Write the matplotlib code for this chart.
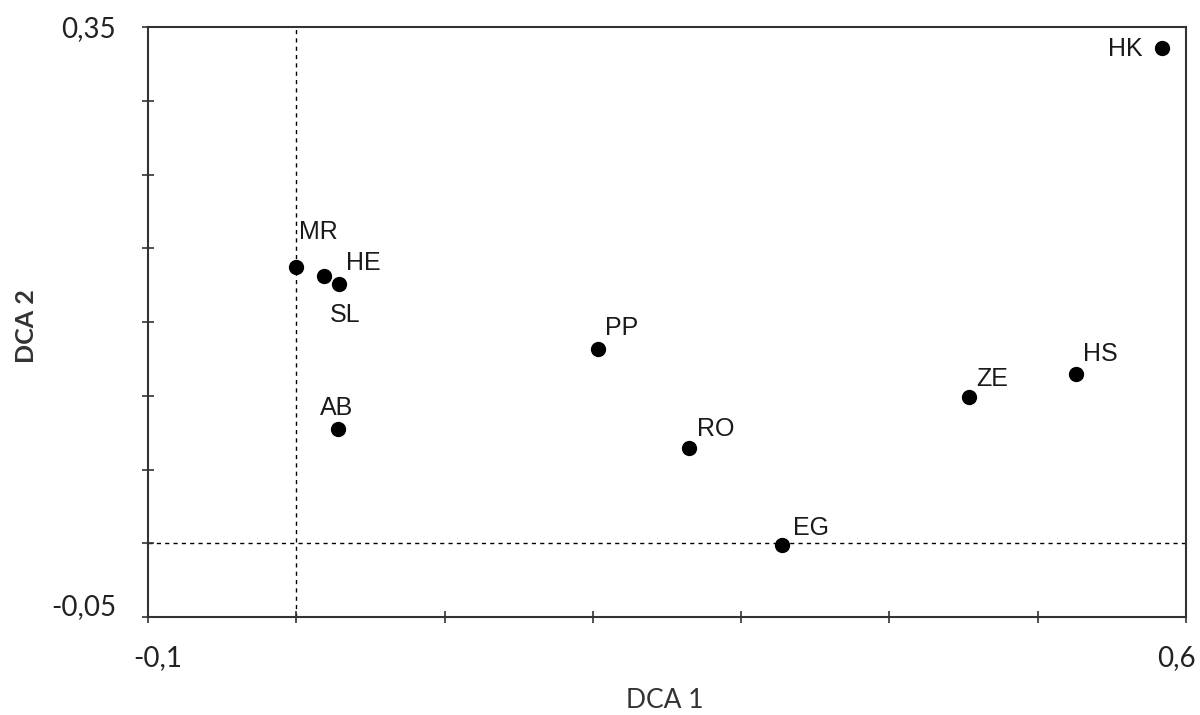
import matplotlib
matplotlib.use("Agg")
import matplotlib.pyplot as plt
import matplotlib.transforms as mtransforms
from matplotlib.ticker import MultipleLocator, FuncFormatter

# site scores on the first two DCA axes
sites = ["MR", "SL", "HE", "AB", "PP", "RO", "EG", "ZE", "HS", "HK"]
dca1 = [0.000, 0.019, 0.029, 0.028, 0.2035, 0.265, 0.3275, 0.4535, 0.526, 0.584]
dca2 = [0.187, 0.181, 0.176, 0.0775, 0.132, 0.0645, -0.001, 0.099, 0.115, 0.336]

# label placement (pixel offsets from the point, alignment)
label_pos = {
    "MR": (3, 28, "left"),
    "SL": (5, -46, "left"),
    "HE": (7, 14, "left"),
    "AB": (-18, 14, "left"),
    "PP": (7, 14, "left"),
    "RO": (8, 12, "left"),
    "EG": (11, 10, "left"),
    "ZE": (8, 11, "left"),
    "HS": (7, 13, "left"),
    "HK": (-20, -8, "right"),
}

W, H = 1200, 715
fig = plt.figure(figsize=(12, 7.15), dpi=100)
ax = fig.add_axes([0.1233, 0.137, 0.8650, 0.8252])

ax.set_xlim(-0.1, 0.6)
ax.set_ylim(-0.05, 0.35)

ax.axvline(0, color="black", linestyle=(0, (3, 3)), linewidth=1.0, zorder=1)
ax.axhline(0, color="black", linestyle=(0, (3, 3)), linewidth=1.0, zorder=1)

ax.plot(dca1, dca2, "o", color="black", markersize=10, zorder=3)

for name, x, y in zip(sites, dca1, dca2):
    dx, dy, ha = label_pos[name]
    ax.annotate(name, (x, y), xytext=(dx * 0.72, dy * 0.72),
                textcoords="offset points", ha=ha, va="baseline",
                fontsize=18, family="Liberation Sans", color="#1a1a1a")

ax.xaxis.set_major_locator(MultipleLocator(0.1))
ax.yaxis.set_major_locator(MultipleLocator(0.05))


def end_label(lo, hi):
    def fmt(v, pos):
        if abs(v - lo) < 1e-6 or abs(v - hi) < 1e-6:
            s = ("%g" % round(v, 3)).replace(".", ",")
            return s
        return ""
    return fmt


ax.xaxis.set_major_formatter(FuncFormatter(end_label(-0.1, 0.6)))
ax.yaxis.set_major_formatter(FuncFormatter(end_label(-0.05, 0.35)))

ax.tick_params(axis="both", direction="inout", length=8, width=1.2,
               color="#333333", labelsize=20, labelcolor="#222222")
ax.tick_params(axis="x", pad=16)
ax.tick_params(axis="y", pad=19)
for lab in ax.get_xticklabels() + ax.get_yticklabels():
    lab.set_family("Lato")

# nudge end labels like the original (x end labels pulled inward, bottom y label lifted)
fig.canvas.draw()
xlabs = [t for t in ax.get_xticklabels() if t.get_text()]
ylabs = [t for t in ax.get_yticklabels() if t.get_text()]
shift_left = mtransforms.ScaledTranslation(-10 / 100, 0, fig.dpi_scale_trans)
shift_right = mtransforms.ScaledTranslation(10 / 100, 0, fig.dpi_scale_trans)
shift_up = mtransforms.ScaledTranslation(0, 12 / 100, fig.dpi_scale_trans)
for t in xlabs:
    if t.get_text() == "0,6":
        t.set_transform(t.get_transform() + shift_left)
    elif t.get_text() == "-0,1":
        t.set_transform(t.get_transform() + shift_right)
for t in ylabs:
    if t.get_text() == "-0,05":
        t.set_transform(t.get_transform() + shift_up)

for side in ax.spines.values():
    side.set_linewidth(1.5)
    side.set_color("#333333")

# axis titles placed where the original has them
fig.text(665 / W, 1 - 701 / H, "DCA 1", fontsize=19, family="Lato",
         color="#333333", ha="center", va="center")
fig.text(26 / W, 1 - 326 / H, "DCA 2", fontsize=18, family="Lato",
         fontweight="bold", color="#333333", ha="center", va="center",
         rotation=90)

fig.savefig("out.png", dpi=100)
